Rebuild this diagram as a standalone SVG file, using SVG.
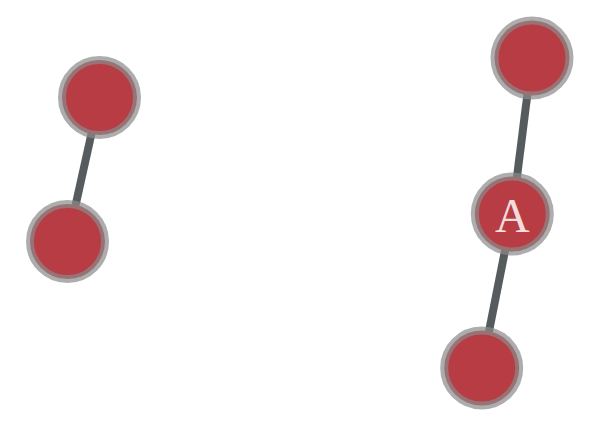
<svg xmlns="http://www.w3.org/2000/svg" width="600" height="427" viewBox="0 0 600 427">
<style>
.edge{stroke:#565b5e;stroke-width:8;fill:none}
.node circle{fill:#b83c44;stroke:#8a8a8a;stroke-opacity:0.7;stroke-width:8}
.label{font-family:"Liberation Serif",serif;font-size:48px;fill:#f2dcdc;text-anchor:middle}
</style>
<rect width="600" height="427" fill="#ffffff"/>
<g id="edges">
<line class="edge" x1="99.5" y1="97.5" x2="67.5" y2="241.5"/>
<line class="edge" x1="532" y1="58" x2="512.3" y2="214"/>
<line class="edge" x1="512.3" y1="214" x2="481.7" y2="368"/>
</g>
<g id="n1" class="node"><circle cx="99.5" cy="97.5" r="37.5"/></g>
<g id="n2" class="node"><circle cx="67.5" cy="241.5" r="37.5"/></g>
<g id="n3" class="node"><circle cx="532" cy="58" r="37.5"/></g>
<g id="n4" class="node"><circle cx="512.3" cy="214" r="37.5"/><text class="label" x="512.3" y="231.5">A</text></g>
<g id="n5" class="node"><circle cx="481.7" cy="368" r="37.5"/></g>
</svg>
